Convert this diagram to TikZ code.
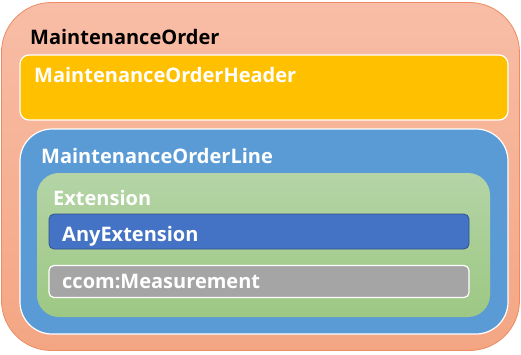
\documentclass[tikz,border=0pt]{standalone}
\usepackage{fontspec}
\setmainfont{Open Sans}
\usetikzlibrary{positioning}

\definecolor{salmonTop}{RGB}{248,189,166}
\definecolor{salmonBot}{RGB}{244,166,131}
\definecolor{salmonLine}{RGB}{237,140,100}
\definecolor{headerGold}{RGB}{255,192,0}
\definecolor{lineBlue}{RGB}{91,155,213}
\definecolor{extTop}{RGB}{180,212,166}
\definecolor{extBot}{RGB}{157,200,131}
\definecolor{anyBlue}{RGB}{68,114,196}
\definecolor{anyEdge}{RGB}{47,82,143}
\definecolor{measGrey}{RGB}{165,165,165}

\begin{document}
\begin{tikzpicture}[
    x=1pt, y=-1pt,
    box/.style={rectangle, inner sep=0pt},
    title/.style={anchor=base west, inner sep=0pt, font=\fontsize{20}{24}\selectfont\bfseries, text=white}
]
    \useasboundingbox (0,0) rectangle (521,354);

    % Outer container
    \node[box, draw=salmonLine, line width=0.8pt, top color=salmonTop, bottom color=salmonBot,
          rounded corners=50pt, minimum width=518pt, minimum height=348pt] (order) at (260.5,176.5) {};
    \node[title, text=black] (orderT) at (30,44) {MaintenanceOrder};

    % Header
    \node[box, draw=white, line width=1.2pt, fill=headerGold, rounded corners=9pt,
          minimum width=488pt, minimum height=65pt] (hdr) at (264,87.5) {};
    \node[title] (hdrT) at (34,82) {MaintenanceOrderHeader};

    % Order line
    \node[box, draw=white, line width=1.2pt, fill=lineBlue, rounded corners=32pt,
          minimum width=488pt, minimum height=205pt] (line) at (264,231.5) {};
    \node[title] (lineT) at (41,163) {MaintenanceOrderLine};

    % Extension
    \node[box, top color=extTop, bottom color=extBot, rounded corners=22pt,
          minimum width=453pt, minimum height=144pt] (ext) at (263.5,245) {};
    \node[title] (extT) at (53,205) {Extension};

    % Children of Extension
    \node[box, draw=anyEdge, line width=0.8pt, fill=anyBlue, rounded corners=5pt,
          minimum width=420pt, minimum height=35pt] (any) at (259,231.5) {};
    \node[title] (anyT) at (62,241) {AnyExtension};

    \node[box, draw=white, line width=1.2pt, fill=measGrey, rounded corners=5pt,
          minimum width=420pt, minimum height=32pt] (meas) at (259,281.5) {};
    \node[title] (measT) at (62,288) {ccom:Measurement};
\end{tikzpicture}
\end{document}
